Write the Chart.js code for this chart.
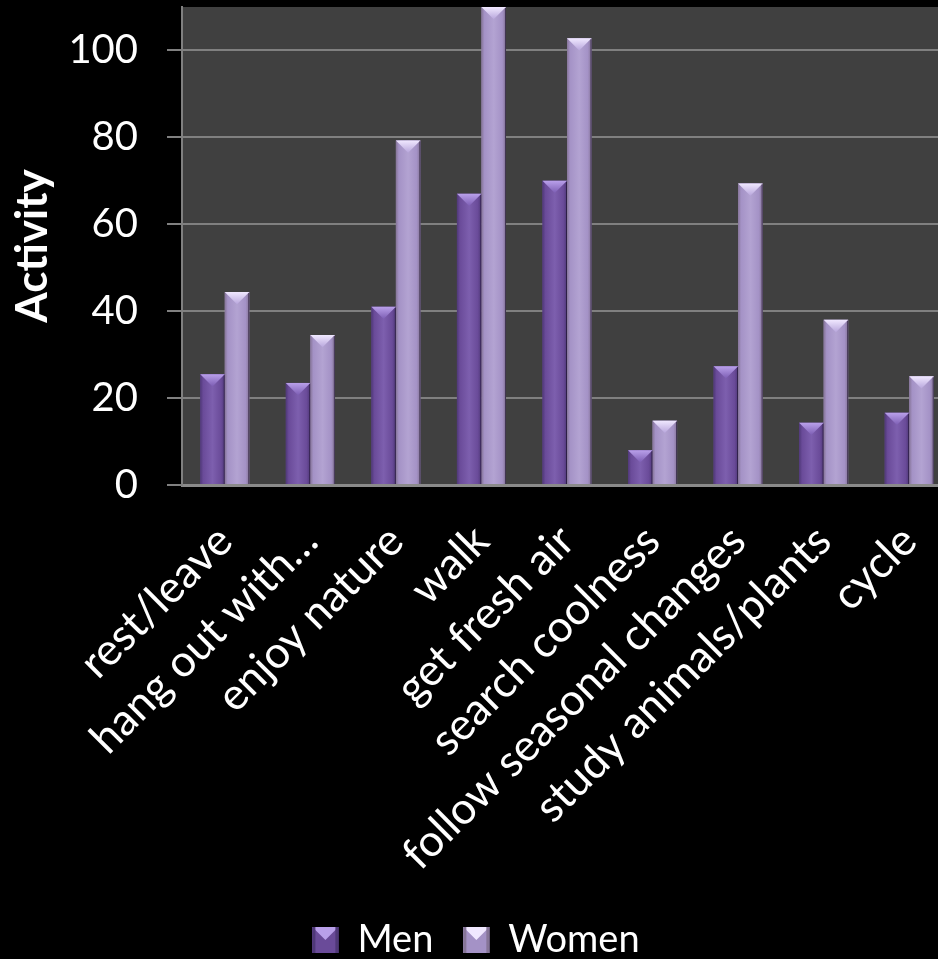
<!DOCTYPE html>
<html>
<head>
<meta charset="utf-8">
<script src="https://cdn.jsdelivr.net/npm/chart.js@4.4.1/dist/chart.umd.min.js"></script>
<style>
  html, body { margin: 0; padding: 0; background: #000; overflow: hidden; }
  #wrap { width: 952px; height: 959px; }
</style>
</head>
<body>
<div id="wrap"><canvas id="chart" width="952" height="959"></canvas></div>
<script>
// Activities in green spaces, by gender
const categories = [
  'rest/leave', 'hang out with…', 'enjoy nature', 'walk', 'get fresh air',
  'search coolness', 'follow seasonal changes', 'study animals/plants', 'cycle'
];
const men   = [25.5, 23.5, 41, 67, 70, 8, 27.3, 14.3, 16.6];
const women = [44.4, 34.5, 79.3, 110, 102.8, 14.8, 69.4, 38, 25];
const yTicks = [0, 20, 40, 60, 80, 100];

const FONT = 'Lato, "Open Sans", sans-serif';

// Base fill plus bevel shades for each series
const palette = {
  Men:   { base: '#6a4b99', edge: '#4f3878', light: '#7d5fae', capTop: '#b9a0ea', capTip: '#7c5db3' },
  Women: { base: '#a492c6', edge: '#867598', light: '#b3a3d2', capTop: '#f0e8ff', capTip: '#b8a6dc' }
};

// Dark plot background behind the bars
const plotBackground = {
  id: 'plotBackground',
  beforeDraw(chart) {
    const { ctx, chartArea: a } = chart;
    ctx.save();
    ctx.fillStyle = '#404040';
    ctx.fillRect(a.left, a.top, a.right - a.left, a.bottom - a.top);
    ctx.restore();
  }
};

// Bevelled look for every bar: side shading and a pointed top cap
function bevel(ctx, l, r, top, bottom, p) {
  const w = r - l;
  const g = ctx.createLinearGradient(l, 0, r, 0);
  g.addColorStop(0, p.edge);
  g.addColorStop(0.12, p.base);
  g.addColorStop(0.5, p.light);
  g.addColorStop(0.85, p.base);
  g.addColorStop(1, p.edge);
  ctx.fillStyle = g;
  ctx.fillRect(l, top, w, bottom - top);
  const depth = Math.min(w * 0.5, (bottom - top));
  const cg = ctx.createLinearGradient(0, top, 0, top + depth);
  cg.addColorStop(0, p.capTop);
  cg.addColorStop(1, p.capTip);
  ctx.fillStyle = cg;
  ctx.beginPath();
  ctx.moveTo(l, top);
  ctx.lineTo(r, top);
  ctx.lineTo(l + w / 2, top + depth);
  ctx.closePath();
  ctx.fill();
}

const barBevel = {
  id: 'barBevel',
  afterDatasetsDraw(chart) {
    const ctx = chart.ctx;
    ctx.save();
    chart.data.datasets.forEach((ds, i) => {
      const meta = chart.getDatasetMeta(i);
      if (meta.hidden) return;
      const p = palette[ds.label];
      meta.data.forEach(bar => {
        const { x, y, base, width } = bar.getProps(['x', 'y', 'base', 'width'], true);
        const l = x - width / 2, r = x + width / 2;
        bevel(ctx, l, r, Math.min(y, base), Math.max(y, base), p);
        // thin shadow on the right edge
        ctx.fillStyle = 'rgba(30,20,45,0.7)';
        ctx.fillRect(r - 1, Math.min(y, base) + 1, 1, Math.abs(base - y) - 1);
      });
    });
    ctx.restore();
  },
  afterDraw(chart) {
    const lg = chart.legend;
    if (!lg || !lg.legendHitBoxes) return;
    const ctx = chart.ctx;
    const bw = lg.options.labels.boxWidth, bh = lg.options.labels.boxHeight;
    ctx.save();
    lg.legendItems.forEach((item, i) => {
      const hb = lg.legendHitBoxes[i];
      const p = palette[item.text];
      const top = hb.top + (hb.height - bh) / 2;
      ctx.fillStyle = p.base;
      ctx.fillRect(hb.left, top, bw, bh);
      ctx.fillStyle = p.capTop;
      ctx.beginPath();
      ctx.moveTo(hb.left, top);
      ctx.lineTo(hb.left + bw, top);
      ctx.lineTo(hb.left + bw / 2, top + bh * 0.5);
      ctx.closePath();
      ctx.fill();
      ctx.fillStyle = p.edge;
      ctx.fillRect(hb.left, top, 3, bh);
      ctx.fillRect(hb.left + bw - 3, top, 3, bh);
    });
    ctx.restore();
  }
};

new Chart(document.getElementById('chart'), {
  type: 'bar',
  data: {
    labels: categories,
    datasets: [
      { label: 'Men',   data: men,   backgroundColor: palette.Men.base,   borderWidth: 0 },
      { label: 'Women', data: women, backgroundColor: palette.Women.base, borderWidth: 0 }
    ]
  },
  options: {
    responsive: false,
    animation: false,
    devicePixelRatio: 1,
    layout: { padding: { top: 7, right: 0, bottom: -10, left: 0 } },
    datasets: { bar: { categoryPercentage: 0.573, barPercentage: 1 } },
    plugins: {
      tooltip: { enabled: false },
      legend: {
        position: 'bottom',
        labels: {
          color: '#ffffff',
          font: { family: FONT, size: 38 },
          boxWidth: 26,
          boxHeight: 26,
          padding: 30
        }
      }
    },
    scales: {
      x: {
        grid: { display: false },
        border: { display: true, color: '#8a8a8a', width: 3 },
        ticks: {
          color: '#ffffff',
          font: { family: FONT, size: 44 },
          minRotation: 45,
          maxRotation: 45,
          autoSkip: false,
          padding: 22
        },
        afterFit(scale) {
          scale.height = 406;
          scale.paddingLeft = 0;
          scale.paddingRight = 0;
        }
      },
      y: {
        min: 0,
        max: 110,
        afterBuildTicks(scale) { scale.ticks = yTicks.map(v => ({ value: v })); },
        grid: { color: '#808080', lineWidth: 2, tickLength: 15, tickColor: '#808080', drawTicks: true },
        border: { display: true, color: '#808080', width: 2 },
        ticks: { color: '#ffffff', font: { family: FONT, size: 40 }, padding: 29 },
        title: {
          display: true,
          text: 'Activity',
          color: '#ffffff',
          font: { family: FONT, size: 44, weight: 'bold' },
          padding: { top: 6, bottom: 0 }
        },
        afterFit(scale) {
          scale.width = 182;
          scale.paddingTop = 0;
          scale.paddingBottom = 0;
        }
      }
    }
  },
  plugins: [plotBackground, barBevel]
});
</script>
</body>
</html>
